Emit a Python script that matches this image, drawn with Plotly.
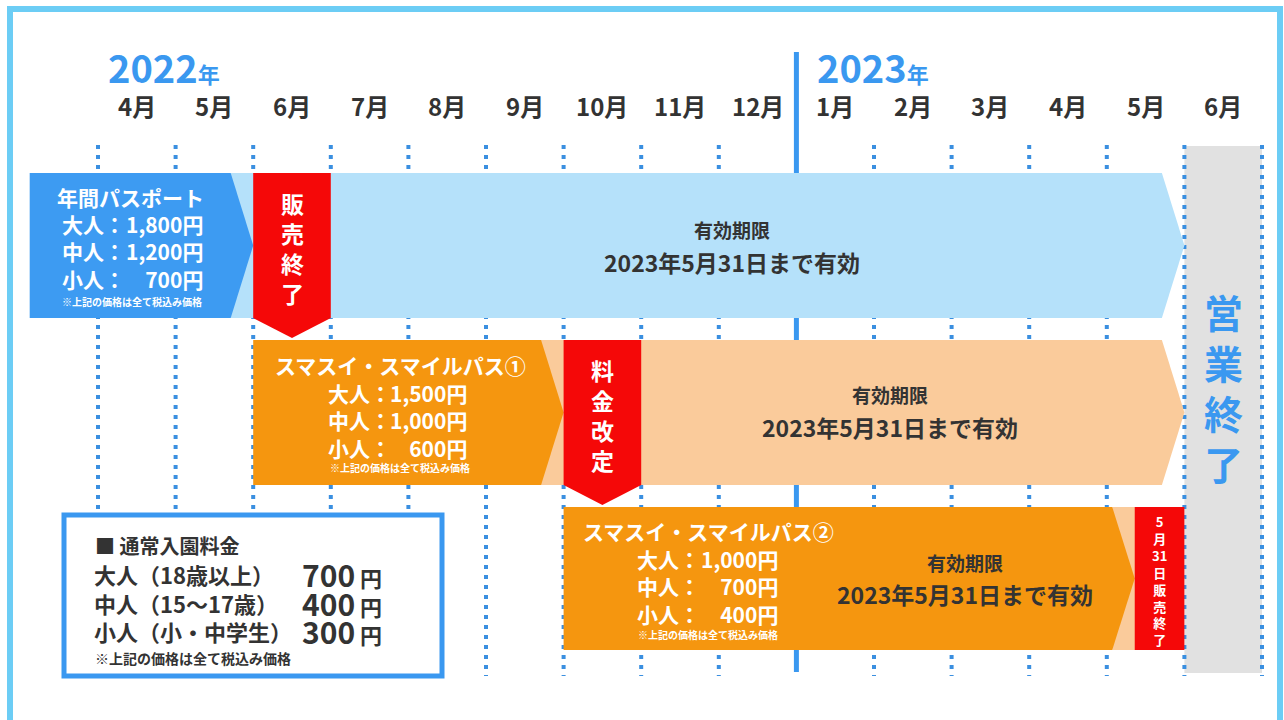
import re
import plotly.graph_objects as go

# ---------------- data ----------------
months = ["4月", "5月", "6月", "7月", "8月", "9月", "10月", "11月", "12月",
          "1月", "2月", "3月", "4月", "5月", "6月"]
years = ["2022", "2023"]
year_start_idx = [0, 9]

pass_names = ["年間パスポート", "スマスイ・スマイルパス①", "スマスイ・スマイルパス②"]
price_labels = ["大人", "中人", "小人"]
adult_prices = [1800, 1500, 1000]
middle_prices = [1200, 1000, 700]
child_prices = [700, 600, 400]
pass_start = [-0.88, 2, 6]          # month index (0 = 2022/4/1)
sale_end = [2, 6, 13.36]
banner_end = [3, 7, 14]
banner_text = ["販売終了", "料金改定", "5月31日販売終了"]
valid_end = [14, 14, 14]
valid_title = "有効期限"
valid_text = "2023年5月31日まで有効"
tax_note = "※上記の価格は全て税込み価格"

closing_start, closing_end = 14, 15
closing_text = "営業終了"

regular_title = "■ 通常入園料金"
regular_labels = ["大人（18歳以上）", "中人（15～17歳）", "小人（小・中学生）"]
regular_prices = [700, 400, 300]

# ---------------- layout / style ----------------
W, H = 1284, 720
X0, MW = 98.0, 77.6           # pixel of month 0, pixels per month


def mx(p):
    return (p - X0) / MW


FONT = "Noto Sans CJK JP"
DARKTXT = "#333333"
BLUE = "#3A98F0"
DOT = "#3A8FE0"
ROW_Y = [(173, 318), (340, 485), (507, 650)]
DARK = ["#3D9BF2", "#F5960F", "#F5960F"]
LIGHT = ["#B5E1FA", "#FACB9B", "#FACB9B"]
RED = "#F50808"
ARROW = 0.29
TIP = 20

title_cx = [130, 400, 708]
title_y = [197, 365, 531]
label_left = [60, 326, 635]
price_right = [205, 469, 780]
price_mid = [251, 420, 586]
note_cx = [132, 400, 708]
note_y = [301, 467, 634]
valid_cx = [732, 890, 965]
valid_y = [(229, 262), (394, 427), (562, 594)]

shapes = []
ann = []

# outer frame
shapes.append(dict(type="rect", xref="x", yref="y", x0=mx(10), x1=mx(1280), y0=9, y1=760,
                   line=dict(color="#6CCDF5", width=6), fillcolor="rgba(0,0,0,0)"))

# closing grey area
shapes.append(dict(type="rect", xref="x", yref="y", x0=closing_start, x1=closing_end,
                   y0=146, y1=673, line=dict(width=0), fillcolor="#E1E1E1"))

# dotted month lines
for i in range(len(months) + 1):
    if i in year_start_idx[1:]:
        continue
    shapes.append(dict(type="line", xref="x", yref="y", x0=i, x1=i, y0=145, y1=676,
                       line=dict(color=DOT, width=4, dash="4px,6px")))
# solid year line
for s in year_start_idx[1:]:
    shapes.append(dict(type="line", xref="x", yref="y", x0=s, x1=s, y0=52, y1=672,
                       line=dict(color=BLUE, width=5)))

# year labels
for yname, s in zip(years, year_start_idx):
    ann.append(dict(x=s + (mx(106) if s == 0 else 0.24), y=66, xref="x", yref="y",
                    xanchor="left", yanchor="middle", showarrow=False,
                    text=f"<b><span style='font-size:38px'>{yname}</span>"
                         f"<span style='font-size:22px'>年</span></b>",
                    font=dict(family=FONT, color=BLUE, size=22)))

# month labels
for i, m in enumerate(months):
    ann.append(dict(x=i + 0.5, y=105, xref="x", yref="y", showarrow=False,
                    text=f"<b>{m}</b>", font=dict(family=FONT, size=24, color=DARKTXT)))

price_table = [adult_prices, middle_prices, child_prices]

for r in range(3):
    y0, y1 = ROW_Y[r]
    ym = (y0 + y1) / 2
    ps, se, be, ve = pass_start[r], sale_end[r], banner_end[r], valid_end[r]
    # light (validity) part
    xs = se - ARROW
    shapes.append(dict(type="path", xref="x", yref="y", line=dict(width=0), fillcolor=LIGHT[r],
                       path=f"M{xs},{y0} L{ve - ARROW},{y0} L{ve},{ym} L{ve - ARROW},{y1} L{xs},{y1} Z"))
    # dark (sales) part
    shapes.append(dict(type="path", xref="x", yref="y", line=dict(width=0), fillcolor=DARK[r],
                       path=f"M{ps},{y0} L{se - ARROW},{y0} L{se},{ym} L{se - ARROW},{y1} L{ps},{y1} Z"))
    # red banner
    if be - se >= 0.9:
        p = f"M{se},{y0} L{be},{y0} L{be},{y1} L{(se + be) / 2},{y1 + TIP} L{se},{y1} Z"
        fs = 23
    else:
        p = f"M{se},{y0} L{be},{y0} L{be},{y1} L{se},{y1} Z"
        fs = 13
    shapes.append(dict(type="path", xref="x", yref="y", line=dict(width=0), fillcolor=RED, path=p))
    tokens = re.findall(r"\d+|.", banner_text[r])
    ann.append(dict(x=(se + be) / 2, y=ym + 2, xref="x", yref="y", showarrow=False,
                    text="<b>" + "<br>".join(tokens) + "</b>",
                    font=dict(family=FONT, size=fs, color="white")))

    # pass text
    ann.append(dict(x=mx(title_cx[r]), y=title_y[r], xref="x", yref="y", showarrow=False,
                    text=f"<b>{pass_names[r]}</b>", font=dict(family=FONT, size=21, color="white")))
    ann.append(dict(x=mx(label_left[r]), y=price_mid[r], xref="x", yref="y", showarrow=False,
                    xanchor="left", align="left",
                    text="<b>" + "<br>".join(f"{lab}：" for lab in price_labels) + "</b>",
                    font=dict(family=FONT, size=21, color="white")))
    ann.append(dict(x=mx(price_right[r]), y=price_mid[r], xref="x", yref="y", showarrow=False,
                    xanchor="right", align="right",
                    text="<b>" + "<br>".join(f"{price_table[k][r]:,}円" for k in range(3)) + "</b>",
                    font=dict(family=FONT, size=21, color="white")))
    ann.append(dict(x=mx(note_cx[r]), y=note_y[r], xref="x", yref="y", showarrow=False,
                    text=f"<b>{tax_note}</b>", font=dict(family=FONT, size=10, color="white")))
    # validity text
    ann.append(dict(x=mx(valid_cx[r]), y=valid_y[r][0], xref="x", yref="y", showarrow=False,
                    text=f"<b>{valid_title}</b>", font=dict(family=FONT, size=19, color=DARKTXT)))
    ann.append(dict(x=mx(valid_cx[r]), y=valid_y[r][1], xref="x", yref="y", showarrow=False,
                    text=f"<b>{valid_text}</b>", font=dict(family=FONT, size=23, color=DARKTXT)))

# closing text
ann.append(dict(x=(closing_start + closing_end) / 2, y=387, xref="x", yref="y", showarrow=False,
                text="<b>" + "<br>".join(closing_text) + "</b>",
                font=dict(family=FONT, size=39, color=BLUE)))

# regular admission box
shapes.append(dict(type="rect", xref="x", yref="y", x0=mx(64), x1=mx(442), y0=515, y1=676,
                   line=dict(color=BLUE, width=5), fillcolor="white"))
ann.append(dict(x=mx(93), y=545, xref="x", yref="y", showarrow=False, xanchor="left",
                text=f"<b>{regular_title}</b>", font=dict(family=FONT, size=20, color=DARKTXT)))
ann.append(dict(x=mx(92), y=602, xref="x", yref="y", showarrow=False, xanchor="left", align="left",
                text="<b>" + "<br>".join(regular_labels) + "</b>",
                font=dict(family=FONT, size=22, color=DARKTXT)))
ann.append(dict(x=mx(384), y=602, xref="x", yref="y", showarrow=False, xanchor="right", align="right",
                text="<b>" + "<br>".join(f"<span style='font-size:30px'>{pr}</span> 円"
                                         for pr in regular_prices) + "</b>",
                font=dict(family=FONT, size=22, color=DARKTXT)))
ann.append(dict(x=mx(93), y=658, xref="x", yref="y", showarrow=False, xanchor="left",
                text=f"<b>{tax_note}</b>", font=dict(family=FONT, size=14, color=DARKTXT)))

fig = go.Figure()
fig.update_layout(
    width=W, height=H, margin=dict(l=0, r=0, t=0, b=0),
    paper_bgcolor="white", plot_bgcolor="white",
    xaxis=dict(range=[mx(0), mx(W)], visible=False, fixedrange=True),
    yaxis=dict(range=[H, 0], visible=False, fixedrange=True),
    shapes=shapes, annotations=ann, showlegend=False,
)
fig.write_html("out.html", config={"displayModeBar": False},
               post_script="document.body.style.margin='0';document.body.style.overflow='hidden';")
